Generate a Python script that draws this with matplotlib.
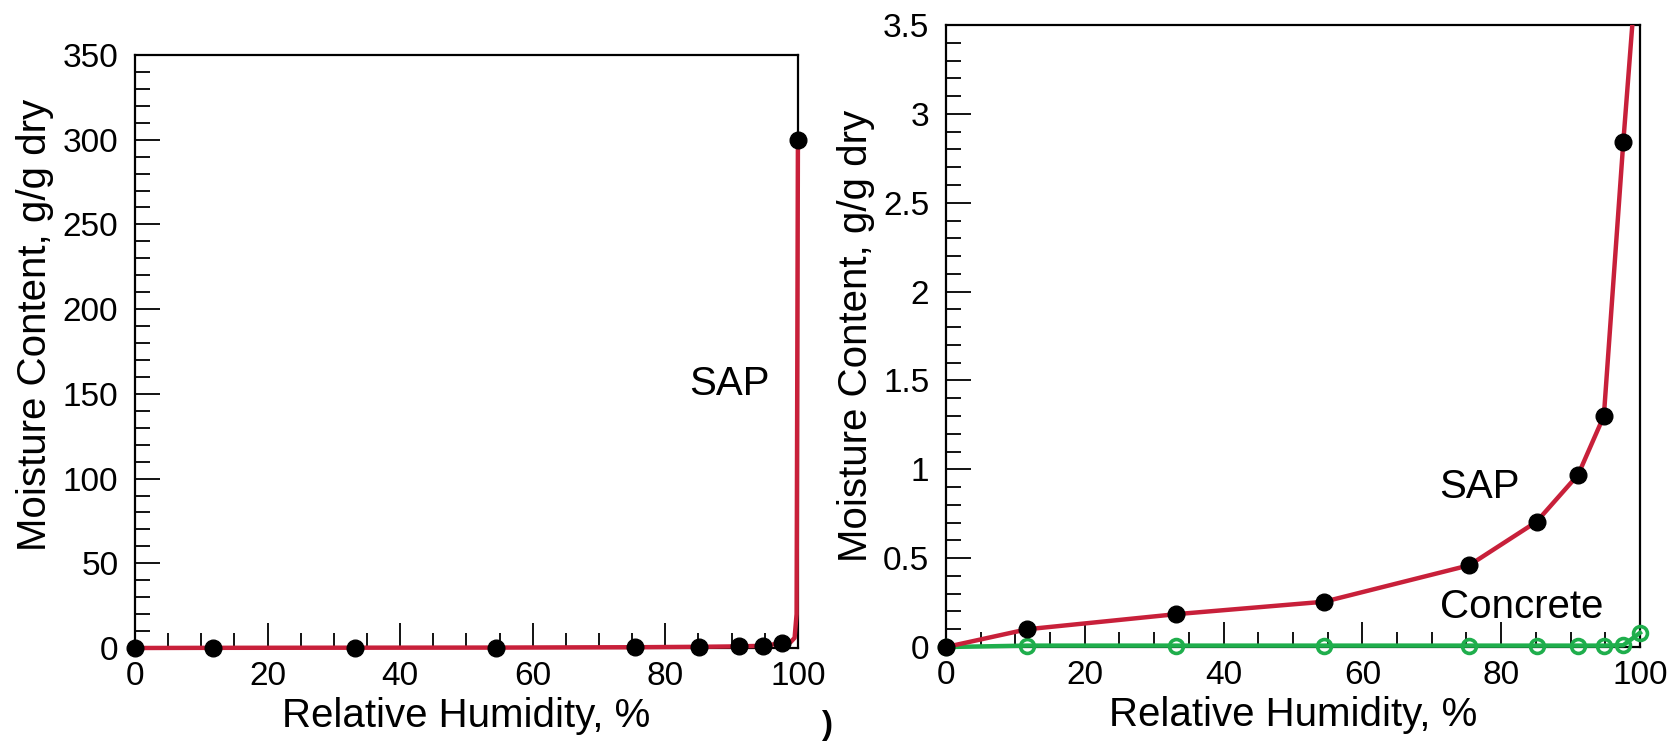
import matplotlib
matplotlib.use("Agg")
import matplotlib.pyplot as plt
from matplotlib.ticker import MultipleLocator

plt.rcParams['font.family'] = ['Liberation Sans', 'DejaVu Sans']

# measured points (relative humidity, %)
rh = [0, 11.7, 33.2, 54.5, 75.4, 85.1, 91.1, 94.8, 97.6]
sap = [0, 0.10, 0.185, 0.255, 0.46, 0.705, 0.97, 1.30, 2.84]
rh_sat = 100
sap_sat = 300

# fitted curve near saturation
curve_rh = [98.9, 99.5, 99.8]
curve_sap = [3.5, 6, 20]

concrete_rh = [0, 11.7, 33.2, 54.5, 75.4, 85.1, 91.1, 94.8, 97.6, 100]
concrete = [0, 0.008, 0.008, 0.008, 0.008, 0.008, 0.008, 0.008, 0.01, 0.08]

red = '#c8203a'
green = '#1fae4c'

fig = plt.figure(figsize=(16.77, 7.45), dpi=100)
ax1 = fig.add_axes([0.0805, 0.1302, 0.3953, 0.7960])
ax2 = fig.add_axes([0.5641, 0.1315, 0.4138, 0.8349])

line_x = rh + curve_rh + [rh_sat]
line_y = sap + curve_sap + [sap_sat]


def style_axes(ax):
    for s in ax.spines.values():
        s.set_linewidth(1.6)
    ax.tick_params(which='both', direction='in', top=False, right=False,
                   labelsize=24, width=1.3)
    ax.tick_params(which='major', length=18)
    ax.tick_params(which='minor', length=11)
    ax.tick_params(axis='y', pad=12)
    ax.tick_params(axis='x', pad=9)
    ax.xaxis.set_major_locator(MultipleLocator(20))
    ax.xaxis.set_minor_locator(MultipleLocator(5))
    ax.set_xlim(0, 100)
    ax.set_xlabel('Relative Humidity, %', fontsize=29, labelpad=4)
    ax.set_ylabel('Moisture Content, g/g dry', fontsize=29, labelpad=6)


# left: full range
ax1.plot(line_x, line_y, color=red, lw=3.2, zorder=3, clip_on=False)
ax1.plot(rh + [rh_sat], sap + [sap_sat], 'o', color='black', ms=12,
         zorder=4, clip_on=False)
ax1.set_ylim(0, 350)
ax1.yaxis.set_major_locator(MultipleLocator(50))
ax1.yaxis.set_minor_locator(MultipleLocator(10))
style_axes(ax1)
ax1.yaxis.label.set_y(0.544)
ax1.text(89.6, 156, 'SAP', fontsize=29, ha='center', va='center')

# right: zoomed
ax2.plot(concrete_rh, concrete, '-o', color=green, lw=3.2, ms=10,
         mfc='none', mew=2.6, zorder=3, clip_on=False)
ax2.plot(line_x, line_y, color=red, lw=3.2, zorder=4)
ax2.plot(rh, sap, 'o', color='black', ms=12, zorder=5, clip_on=False)
ax2.set_ylim(0, 3.5)
ax2.yaxis.set_major_locator(MultipleLocator(0.5))
ax2.yaxis.set_minor_locator(MultipleLocator(0.1))
ax2.yaxis.set_major_formatter(plt.FuncFormatter(lambda v, p: '%g' % v))
style_axes(ax2)
ax2.text(76.8, 0.90, 'SAP', fontsize=29, ha='center', va='center')
ax2.text(82.9, 0.225, 'Concrete', fontsize=29, ha='center', va='center')

fig.text(0.493, 0.005, ')', fontsize=24, fontweight='bold', ha='center', va='bottom')

fig.savefig('out.png', dpi=100)
